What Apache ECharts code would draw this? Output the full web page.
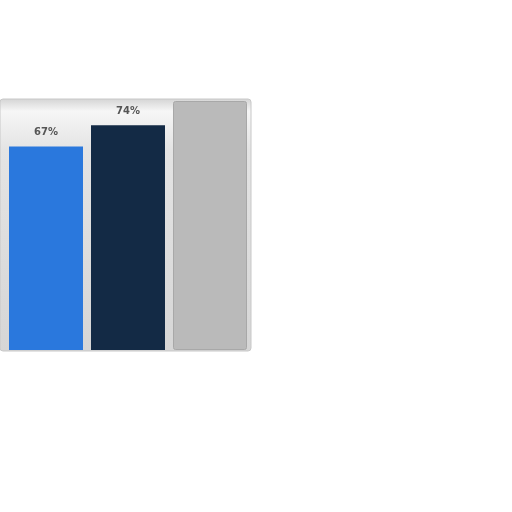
<!DOCTYPE html>
<html>
<head>
<meta charset="utf-8">
<script src="https://cdn.jsdelivr.net/npm/echarts@6/dist/echarts.min.js"></script>
<style>
  html, body { margin: 0; padding: 0; background: #fff; }
  #main { width: 512px; height: 512px; }
</style>
</head>
<body>
<div id="main"></div>
<script>
  // bar data
  var categories = ['A', 'B', 'C'];
  var values = [67, 74, 82];
  var labels = ['67%', '74%', ''];
  var colors = ['#2a78dd', '#132a45', '#bababa'];

  var chart = echarts.init(document.getElementById('main'));

  var data = values.map(function (v, i) {
    return {
      value: v,
      itemStyle: {
        color: colors[i],
        borderRadius: i === 2 ? 2 : 0,
        borderColor: i === 2 ? '#a8a8a8' : colors[i],
        borderWidth: i === 2 ? 1 : 0
      },
      label: { show: labels[i] !== '', formatter: labels[i] }
    };
  });

  chart.setOption({
    animation: false,
    graphic: [{
      type: 'rect',
      z: -10,
      shape: { x: 0, y: 99, width: 251, height: 252, r: 3 },
      style: {
        fill: new echarts.graphic.LinearGradient(0, 0, 0, 1, [
          { offset: 0, color: '#d4d4d4' },
          { offset: 0.05, color: '#f6f6f6' },
          { offset: 0.2, color: '#e4e4e4' },
          { offset: 1, color: '#d6d6d6' }
        ]),
        stroke: '#c8c8c8',
        lineWidth: 1
      }
    }],
    grid: { left: 5, right: 261, top: 101, bottom: 162 },
    xAxis: {
      type: 'category',
      data: categories,
      show: false
    },
    yAxis: {
      type: 'value',
      min: 0,
      max: 82,
      show: false
    },
    series: [{
      type: 'bar',
      data: data,
      barWidth: 74,
      label: {
        position: 'top',
        distance: 9,
        color: '#555555',
        fontSize: 10,
        fontWeight: 'bold',
        fontFamily: 'DejaVu Sans'
      }
    }]
  });
</script>
</body>
</html>
